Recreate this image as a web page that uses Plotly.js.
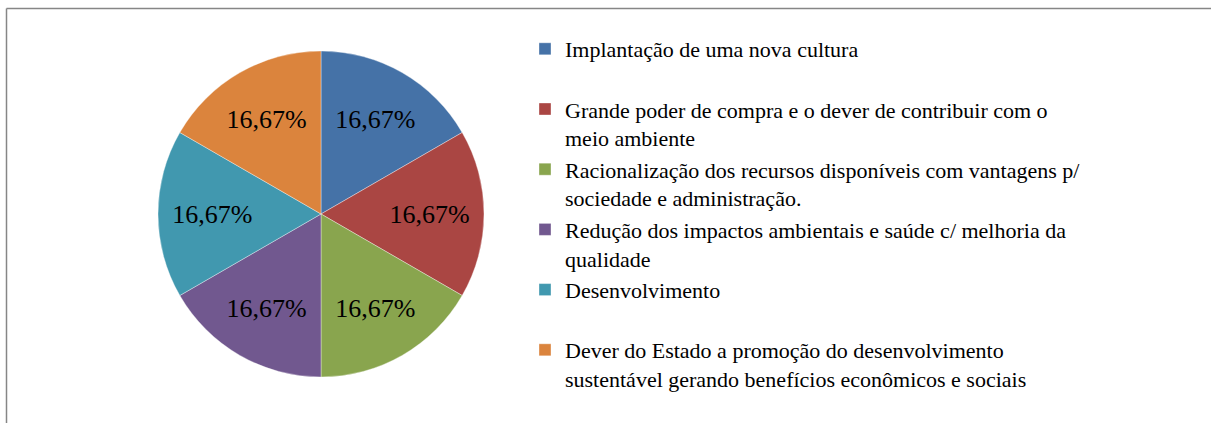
<!DOCTYPE html>
<html>
<head>
<meta charset="utf-8">
<script src="https://cdn.plot.ly/plotly-3.0.1.min.js"></script>
<style>
  html, body { margin: 0; padding: 0; background: #ffffff; }
  #chart { width: 1211px; height: 423px; }
</style>
</head>
<body>
<div id="chart"></div>
<script>
// Categories (legend labels, with the line breaks seen in the reference;
// single-line entries keep an empty second line, as in the reference legend)
const categories = [
  "Implantação de uma nova cultura<br>&nbsp;",
  "Grande poder de compra e o dever de contribuir com o<br>meio ambiente",
  "Racionalização dos recursos disponíveis com vantagens p/<br>sociedade e administração.",
  "Redução dos impactos ambientais e saúde c/ melhoria da<br>qualidade",
  "Desenvolvimento<br>&nbsp;",
  "Dever do Estado a promoção do desenvolvimento<br>sustentável gerando benefícios econômicos e sociais"
];
// Series values (six equal shares, 16,67% each)
const values = [1, 1, 1, 1, 1, 1];
// Slice colours
const colors = ["#4572A7", "#AA4643", "#89A54E", "#71588F", "#4198AF", "#DB843D"];

const W = 1211, H = 423;
const serif = '"Liberation Serif", "Times New Roman", serif';

const trace = {
  type: 'pie',
  labels: categories,
  values: values,
  sort: false,
  direction: 'clockwise',
  rotation: 0,
  marker: { colors: colors, line: { color: 'rgba(255,255,255,0.6)', width: 0.6 } },
  texttemplate: '%{percent:.2%}',
  textposition: 'inside',
  insidetextorientation: 'horizontal',
  textfont: { family: serif, size: 26, color: '#000000' },
  hoverinfo: 'label+percent',
  domain: { x: [158 / W, 484 / W], y: [1 - 377 / H, 1 - 51 / H] }
};

const layout = {
  width: W,
  height: H,
  margin: { l: 0, r: 0, t: 0, b: 0 },
  paper_bgcolor: '#ffffff',
  separators: ',.',
  showlegend: true,
  legend: {
    x: 525 / W,
    xanchor: 'left',
    y: 1 - 28 / H,
    yanchor: 'top',
    valign: 'top',
    font: { family: serif, size: 22, color: '#000000' },
    bgcolor: 'rgba(0,0,0,0)',
    borderwidth: 0,
    tracegroupgap: 0
  },
  shapes: [
    { type: 'line', xref: 'paper', yref: 'paper', x0: 6.5 / W, x1: 1, y0: 1 - 8.5 / H, y1: 1 - 8.5 / H,
      line: { color: '#868686', width: 1.5 } },
    { type: 'line', xref: 'paper', yref: 'paper', x0: 6.5 / W, x1: 6.5 / W, y0: 1 - 8.5 / H, y1: 0,
      line: { color: '#868686', width: 1.5 } }
  ]
};

Plotly.newPlot('chart', [trace], layout, { displayModeBar: false, staticPlot: true });
</script>
</body>
</html>
